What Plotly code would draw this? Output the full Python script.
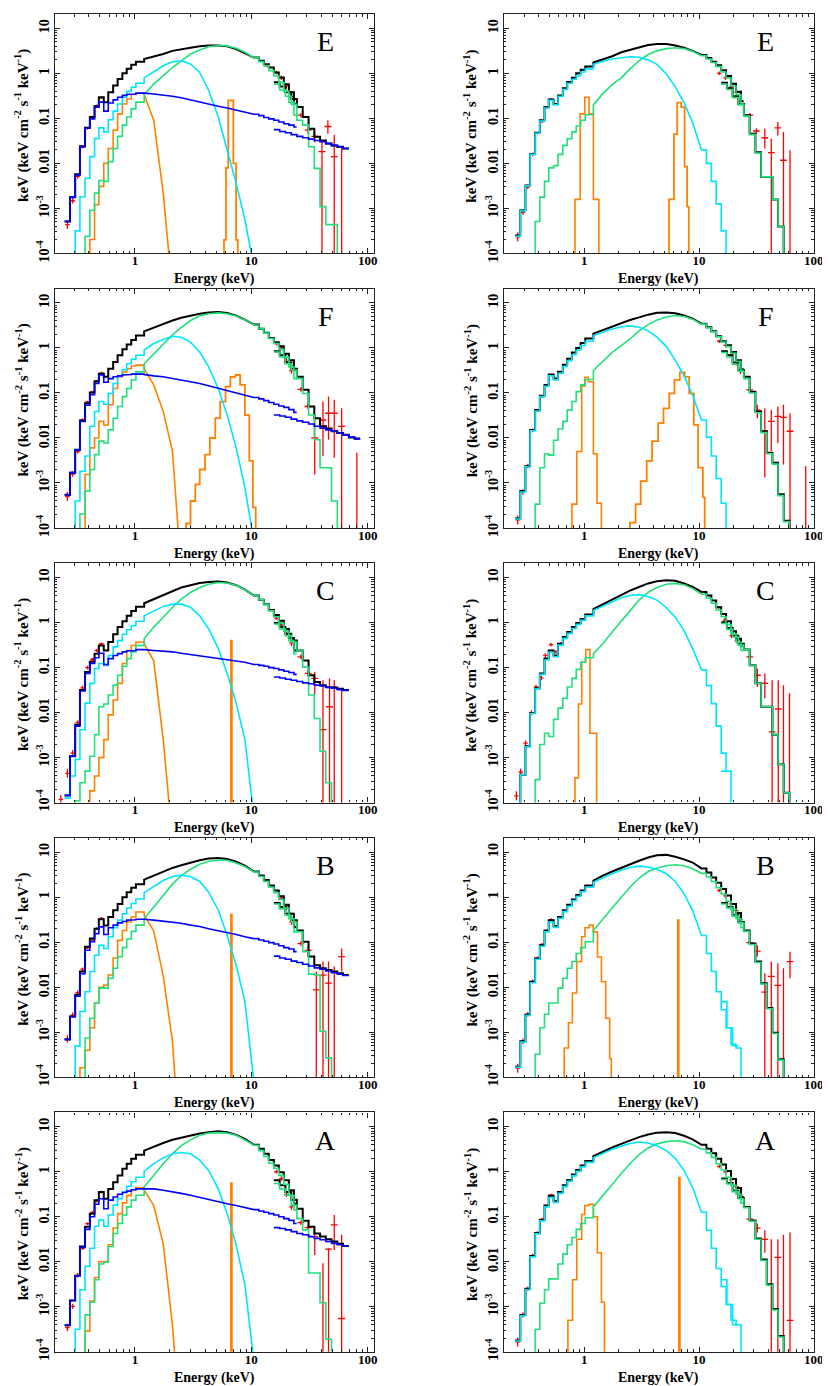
import plotly.graph_objects as go
import math

# ---------------- energy grids (keV, bin edges) ----------------
XIS_EDGES = [0.249, 0.277, 0.307, 0.337, 0.373, 0.41, 0.45, 0.49, 0.54, 0.59, 0.65, 0.71, 0.78,
             0.85, 0.93, 1.02, 1.2, 1.45, 1.75, 2.1, 2.5, 3.0, 3.6, 4.3, 5.2, 6.2, 7.4, 8.8,
             10.5, 11.6, 12.8, 14.1, 15.6, 17.2, 19.0, 21.0, 23.2, 24.5]
HXD_EDGES = [15.6, 17.5, 19.6, 22.0, 24.6, 27.6, 31.0, 34.7, 38.9, 43.6, 48.8, 54.7, 61.3, 68.7, 77.0, 86.0]

# All spectral values below are log10 of E*F(E) [keV (keV cm^-2 s^-1 keV^-1)]
# tot = total model (black), pl = power law (blue), bb = soft thermal (cyan),
# cp = comptonised (green), ln = lines (orange); *h = hard-detector branch
# xd = low-detector data, hd = hard-detector data (red)

# ---------- left column, panel E ----------
LE_tot = [-3.29,-2.75,-2.24,-1.62,-1.21,-0.97,-0.73,-0.53,-0.64,-0.42,-0.27,-0.125,0.0,0.1,0.19,0.26,0.32,0.37,0.43,0.5,0.54,0.57,0.6,0.62,0.62,0.6,0.54,0.45,0.35,0.28,0.2,0.13,0.02,-0.09,-0.24,-0.42,-0.68]
LE_toth = [-0.2,-0.29,-0.42,-0.57,-0.75,-0.97,-1.23,-1.41,-1.49,-1.56,-1.6,-1.63,-1.67]
LE_pl = [-3.29,-2.75,-2.26,-1.63,-1.22,-1.01,-0.75,-0.64,-0.84,-0.66,-0.59,-0.53,-0.49,-0.47,-0.46,-0.44,-0.44,-0.46,-0.48,-0.51,-0.54,-0.59,-0.63,-0.68,-0.73,-0.77,-0.82,-0.87,-0.91,-0.94,-0.98,-1.01,-1.04,-1.08,-1.12,-1.15,-1.19]
LE_plh = [-1.25,-1.29,-1.32,-1.36,-1.4,-1.43,-1.46,-1.49,-1.52,-1.56,-1.6,-1.63,-1.67]
LE_bb = [None,None,-3.5,-2.74,-2.33,-1.85,-1.45,-1.21,-1.3,-1.03,-0.84,-0.68,-0.53,-0.4,-0.31,-0.22,-0.1,0.04,0.17,0.26,0.28,0.21,0.02,-0.38,-0.97,-1.71,-2.44,-3.25,-4.3,None]
LE_cp = [None,None,None,None,-3.62,-3.04,-2.66,-2.38,-2.4,-1.96,-1.67,-1.4,-1.15,-0.97,-0.79,-0.64,-0.47,-0.24,-0.05,0.13,0.28,0.43,0.52,0.59,0.62,0.61,0.56,0.47,0.35,0.26,0.17,0.06,-0.05,-0.2,-0.4,-0.64,-0.93]
LE_cph = [-0.24,-0.37,-0.51,-0.69,-1.04,-1.15,-1.63,-2.11,-2.96,-3.36,-3.36,None]
LE_ln1 = [None,None,None,None,None,-3.69,-2.92,-2.51,-2.0,-1.67,-1.26,-0.9,-0.68,-0.57,-0.47,-0.44,-0.47,-1.04,-2.66,-5.0,None]
LE_ln2_e = [5.82, 6.05, 6.33, 6.67, 7.0, 7.4, 7.65]
LE_ln2 = [-3.7, -2.1, -0.6, -0.6, -2.0, -3.7]
LE_xd_e = [0.263,0.292,0.322,0.355,0.391,0.43,0.47,0.515,13.4,16.4,18.1,20.0,22.1]
LE_xd = [-3.36,-2.83,-2.29,-1.63,-1.22,-0.97,-0.72,-0.54,0.17,0.02,-0.1,-0.28,-0.52]
LE_xd_err = [0.1,0.06,0.05,0.04,0.03,0.03,0.03,0.03,0.03,0.04,0.05,0.06,0.08]
LE_hd_e = [26.6,30.7,35.0,40.4,45.4,51.5,59.6]
LE_hd = [-0.93,-1.26,-1.4,-1.74,-1.18,-1.85,-4.5]
LE_hd_lo = [-0.98,-1.35,-1.53,None,-1.34,None,None]
LE_hd_hi = [-0.88,-1.19,-1.29,-1.49,-1.04,-1.37,-1.63]

# ---------- left column, panel F ----------
LF_tot = [-3.26,-2.77,-2.26,-1.61,-1.23,-0.99,-0.74,-0.57,-0.64,-0.46,-0.31,-0.16,-0.03,0.08,0.18,0.28,0.37,0.45,0.54,0.61,0.67,0.72,0.76,0.79,0.8,0.78,0.72,0.63,0.52,0.43,0.34,0.22,0.13,0.04,-0.13,-0.27,-0.49]
LF_toth = [-0.07,-0.16,-0.32,-0.46,-0.64,-0.93,-1.3,-1.56,-1.74,-1.79,-1.85,-1.89,-1.93,-1.99,-2.01]
LF_pl = [-3.26,-2.77,-2.27,-1.63,-1.27,-1.04,-0.79,-0.6,-0.76,-0.68,-0.64,-0.62,-0.6,-0.59,-0.58,-0.58,-0.59,-0.62,-0.64,-0.68,-0.71,-0.75,-0.79,-0.84,-0.9,-0.94,-0.99,-1.04,-1.1,-1.13,-1.17,-1.21,-1.25,-1.29,-1.32,-1.37,-1.43]
LF_plh = [-1.49,-1.51,-1.54,-1.58,-1.62,-1.65,-1.69,-1.74,-1.78,-1.82,-1.85,-1.89,-1.93,-1.98,-2.02]
LF_bb = [None,None,-3.4,-2.74,-2.4,-1.74,-1.41,-1.19,-1.25,-1.01,-0.79,-0.62,-0.48,-0.35,-0.25,-0.16,-0.05,0.1,0.19,0.26,0.24,0.13,-0.09,-0.42,-0.9,-1.49,-2.22,-3.1,-4.3,None]
LF_cp = [None,None,None,-3.69,-3.18,-2.7,-2.37,-2.07,-2.11,-1.82,-1.56,-1.3,-1.08,-0.9,-0.71,-0.53,-0.35,-0.13,0.1,0.29,0.46,0.61,0.71,0.76,0.78,0.76,0.71,0.63,0.51,0.43,0.33,0.21,0.1,-0.03,-0.2,-0.42,-0.68]
LF_cph = [-0.09,-0.2,-0.35,-0.49,-0.68,-1.01,-1.49,-2.04,-2.66,-2.66,-3.4,None]
LF_ln1 = [None,None,None,None,-2.81,-2.22,-2.0,-1.63,-1.71,-1.26,-0.9,-0.64,-0.53,-0.46,-0.4,-0.38,-0.46,-0.82,-1.41,-2.29,-5.0,None]
LF_ln2_e = [2.75,3.0,3.3,3.6,4.0,4.4,4.9,5.4,6.0,6.6,7.3,8.0,8.8,9.6,10.3,10.9]
LF_ln2 = [-3.9,-3.4,-3.03,-2.7,-2.37,-2.0,-1.56,-1.19,-0.86,-0.64,-0.6,-0.82,-1.49,-2.51,-3.54]
LF_xd_e = [0.263,0.292,0.322,0.355,0.391,0.43,0.47,0.515,16.4,18.1,20.0,22.1]
LF_xd = [-3.3,-2.8,-2.3,-1.6,-1.2,-0.98,-0.74,-0.56,0.1,0.0,-0.3,-0.5]
LF_xd_err = [0.1,0.06,0.05,0.04,0.03,0.03,0.03,0.03,0.04,0.05,0.06,0.07]
LF_hd_e = [26.6,30.6,35.0,41.2,46.0,51.5,59.6,80.5]
LF_hd = [-0.92,-1.3,-2.0,-1.6,-1.45,-1.45,-1.74,-4.5]
LF_hd_lo = [-0.97,-1.36,-2.81,-2.4,-2.04,-2.44,None,None]
LF_hd_hi = [-0.87,-1.24,-1.49,-1.19,-1.08,-1.15,-1.34,-2.33]

# ---------- left column, panel C ----------
LC_tot = [-3.84,-2.97,-2.27,-1.5,-1.1,-0.87,-0.69,-0.51,-0.62,-0.43,-0.26,-0.1,0.03,0.15,0.26,0.35,0.43,0.52,0.62,0.71,0.78,0.83,0.88,0.9,0.91,0.89,0.83,0.73,0.6,0.51,0.41,0.28,0.17,0.04,-0.14,-0.34,-0.62]
LC_toth = [-0.01,-0.1,-0.25,-0.4,-0.62,-0.84,-1.17,-1.32,-1.39,-1.43,-1.44,-1.47,-1.5]
LC_pl = [-3.84,-2.97,-2.3,-1.52,-1.13,-0.91,-0.78,-0.68,-0.93,-0.8,-0.73,-0.69,-0.65,-0.63,-0.62,-0.6,-0.6,-0.62,-0.63,-0.65,-0.68,-0.71,-0.74,-0.76,-0.79,-0.82,-0.85,-0.88,-0.93,-0.95,-0.97,-1.0,-1.02,-1.05,-1.08,-1.11,-1.15]
LC_plh = [-1.21,-1.23,-1.26,-1.28,-1.31,-1.34,-1.36,-1.39,-1.41,-1.44,-1.46,-1.49,-1.51]
LC_bb = [-3.9,-3.41,-3.04,-2.38,-1.79,-1.35,-1.02,-0.91,-0.95,-0.73,-0.54,-0.4,-0.26,-0.16,-0.07,0.03,0.15,0.26,0.36,0.41,0.41,0.34,0.15,-0.14,-0.58,-1.13,-1.79,-2.6,-4.3,None]
LC_cp = [None,None,-3.96,-3.56,-3.3,-2.97,-2.49,-1.87,-1.81,-1.61,-1.39,-1.17,-0.97,-0.8,-0.65,-0.51,-0.36,-0.1,0.12,0.34,0.52,0.67,0.78,0.85,0.89,0.88,0.83,0.73,0.6,0.51,0.4,0.26,0.13,-0.01,-0.19,-0.4,-0.69]
LC_cph = [-0.03,-0.14,-0.29,-0.43,-0.62,-0.99,-1.61,-2.13,-2.86,-3.56,None]
LC_ln1 = [None,None,None,None,None,-3.74,-3.41,-3.0,-2.6,-2.05,-1.72,-1.35,-0.91,-0.62,-0.51,-0.43,-0.47,-0.85,-2.6,-5.0,None]
LC_ln2_e = [6.68, 6.8]
LC_ln2 = [-0.4]
LC_xd_e = [0.231,0.263,0.292,0.322,0.355,0.391,0.43,0.47,0.515,16.4,18.1,20.0,22.1]
LC_xd = [-3.93,-3.35,-2.9,-2.22,-1.45,-1.0,-0.82,-0.62,-0.47,0.1,-0.05,-0.25,-0.45]
LC_xd_err = [0.1,0.1,0.07,0.05,0.05,0.04,0.04,0.04,0.03,0.04,0.05,0.06,0.07]
LC_hd_e = [26.6,30.7,35.0,41.2,46.9,51.5,59.6]
LC_hd = [-0.76,-1.13,-1.24,-2.38,-1.87,-4.5,-4.5]
LC_hd_lo = [-0.81,-1.2,-1.61,None,None,None,None]
LC_hd_hi = [-0.71,-1.06,-1.1,-1.28,-1.24,-1.28,-1.5]

# ---------- left column, panel B ----------
LB_tot = [-3.16,-2.65,-2.17,-1.65,-1.1,-0.92,-0.7,-0.49,-0.63,-0.44,-0.29,-0.15,0.0,0.11,0.21,0.29,0.39,0.48,0.57,0.65,0.71,0.77,0.82,0.86,0.87,0.85,0.79,0.7,0.57,0.48,0.38,0.26,0.15,0.02,-0.17,-0.37,-0.66]
LB_toth = [-0.13,-0.22,-0.37,-0.51,-0.74,-0.99,-1.32,-1.51,-1.58,-1.62,-1.65,-1.69,-1.73]
LB_pl = [-3.16,-2.65,-2.2,-1.7,-1.18,-0.99,-0.81,-0.66,-0.83,-0.68,-0.62,-0.57,-0.54,-0.51,-0.5,-0.49,-0.49,-0.51,-0.53,-0.55,-0.58,-0.62,-0.65,-0.7,-0.74,-0.79,-0.83,-0.88,-0.92,-0.95,-0.98,-1.01,-1.04,-1.08,-1.12,-1.15,-1.21]
LB_plh = [-1.31,-1.35,-1.38,-1.42,-1.45,-1.49,-1.53,-1.57,-1.6,-1.64,-1.68,-1.71,-1.74]
LB_bb = [None,None,-3.31,-2.54,-2.1,-1.65,-1.29,-1.07,-1.14,-0.88,-0.68,-0.51,-0.37,-0.24,-0.14,-0.04,0.1,0.24,0.37,0.46,0.49,0.46,0.35,0.11,-0.29,-0.85,-1.51,-2.32,-4.1,None]
LB_cp = [None,None,None,None,-3.13,-2.69,-2.35,-2.02,-2.02,-1.8,-1.58,-1.32,-1.12,-0.93,-0.76,-0.62,-0.48,-0.22,0.04,0.29,0.48,0.62,0.73,0.8,0.82,0.82,0.76,0.68,0.56,0.46,0.35,0.22,0.1,-0.05,-0.24,-0.48,-0.77]
LB_cph = [-0.15,-0.26,-0.4,-0.55,-0.77,-1.21,-1.71,-1.73,-2.98,-3.57,None]
LB_ln1 = [None,None,None,-3.79,-3.4,-2.9,-2.35,-2.0,-1.95,-1.73,-1.35,-0.96,-0.74,-0.55,-0.44,-0.33,-0.4,-0.75,-1.75,-3.2,-6.0,None]
LB_ln2_e = [6.68, 6.8]
LB_ln2 = [-0.39]
LB_xd_e = [0.263,0.292,0.322,0.355,0.391,0.43,0.47,0.515,18.1,20.0,22.1]
LB_xd = [-3.15,-2.62,-2.12,-1.6,-1.12,-0.95,-0.7,-0.47,-0.02,-0.22,-0.55]
LB_xd_err = [0.08,0.06,0.05,0.04,0.03,0.03,0.03,0.03,0.05,0.06,0.07]
LB_hd_e = [26.6,30.7,36.1,41.2,46.0,51.5,59.6]
LB_hd = [-1.03,-1.18,-2.06,-1.73,-1.91,-4.5,-1.32]
LB_hd_lo = [-1.08,-1.29,None,None,None,None,-1.65]
LB_hd_hi = [-0.98,-1.07,-1.65,-1.43,-1.43,-1.54,-1.14]

# ---------- left column, panel A ----------
LA_tot = [-3.41,-2.86,-2.31,-1.66,-1.22,-0.93,-0.63,-0.45,-0.6,-0.38,-0.23,-0.08,0.07,0.18,0.29,0.38,0.47,0.56,0.64,0.71,0.76,0.81,0.85,0.88,0.9,0.88,0.82,0.73,0.6,0.51,0.4,0.26,0.14,-0.01,-0.19,-0.41,-0.71]
LA_toth = [-0.19,-0.3,-0.45,-0.62,-0.82,-1.09,-1.22,-1.37,-1.44,-1.5,-1.55,-1.6,-1.65]
LA_pl = [-3.41,-2.86,-2.31,-1.68,-1.28,-1.0,-0.72,-0.6,-0.82,-0.63,-0.56,-0.5,-0.46,-0.43,-0.4,-0.38,-0.37,-0.38,-0.41,-0.44,-0.48,-0.52,-0.57,-0.61,-0.66,-0.71,-0.75,-0.79,-0.84,-0.87,-0.9,-0.93,-0.96,-1.0,-1.04,-1.08,-1.15]
LA_plh = [-1.24,-1.26,-1.29,-1.33,-1.37,-1.4,-1.44,-1.48,-1.51,-1.55,-1.59,-1.62,-1.65]
LA_bb = [None,None,-3.5,-2.62,-2.1,-1.7,-1.21,-1.07,-1.21,-0.96,-0.74,-0.6,-0.45,-0.32,-0.22,-0.12,0.01,0.18,0.31,0.4,0.43,0.4,0.26,0.03,-0.38,-0.93,-1.63,-2.51,-4.2,None]
LA_cp = [None,None,None,None,-3.18,-2.9,-2.4,-2.05,-2.01,-1.66,-1.37,-1.15,-0.96,-0.78,-0.63,-0.52,-0.34,-0.08,0.18,0.4,0.58,0.71,0.81,0.86,0.87,0.86,0.81,0.71,0.59,0.47,0.34,0.19,0.08,-0.08,-0.28,-0.52,-0.85]
LA_cph = [-0.26,-0.38,-0.52,-0.74,-1.04,-1.29,-2.25,-2.25,-2.91,-3.72,None]
LA_ln1 = [None,None,None,None,-3.54,-2.87,-2.35,-2.0,-1.99,-1.62,-1.25,-0.93,-0.69,-0.53,-0.4,-0.35,-0.4,-0.75,-1.6,-3.4,-6.0,None]
LA_ln2_e = [6.68, 6.8]
LA_ln2 = [-0.25]
LA_xd_e = [0.263,0.292,0.322,0.355,0.391,0.43,0.47,0.515,16.4,18.1,20.0,22.1]
LA_xd = [-3.46,-2.99,-2.3,-1.7,-1.15,-0.9,-0.65,-0.45,0.0,-0.15,-0.5,-0.78]
LA_xd_err = [0.08,0.06,0.05,0.04,0.03,0.03,0.03,0.03,0.04,0.05,0.06,0.07]
LA_hd_e = [26.6,30.7,35.0,41.2,46.0,51.5,59.6]
LA_hd = [-1.13,-1.24,-1.44,-4.5,-1.72,-1.18,-3.26]
LA_hd_lo = [-1.18,-1.3,-1.85,None,None,-1.74,None]
LA_hd_hi = [-1.08,-1.18,-1.22,-2.03,-1.7,-0.96,-1.4]

# ---------- right column, panel E ----------
RE_tot = [-3.6,-3.04,-2.49,-1.79,-1.32,-1.04,-0.75,-0.58,-0.68,-0.49,-0.33,-0.19,-0.1,0.0,0.08,0.15,0.24,0.31,0.38,0.47,0.52,0.58,0.63,0.65,0.65,0.62,0.57,0.5,0.41,0.34,0.26,0.18,0.07,-0.06,-0.23,-0.41,-0.62]
RE_toth = [-0.21,-0.33,-0.51,-0.68,-0.93,-1.34,-1.75,-2.3,-2.3,-2.8,-3.4,None]
RE_bb = [-3.62,-3.05,-2.5,-1.8,-1.33,-1.06,-0.77,-0.6,-0.7,-0.51,-0.36,-0.22,-0.13,-0.05,0.03,0.1,0.2,0.27,0.32,0.35,0.37,0.36,0.3,0.2,-0.02,-0.3,-0.65,-1.1,-1.7,-2.0,-2.4,-2.9,-3.5,None]
RE_cp = [None,None,None,None,-3.29,-2.75,-2.4,-2.1,-2.05,-1.8,-1.6,-1.45,-1.3,-1.17,-1.04,-0.92,-0.7,-0.45,-0.25,-0.1,0.1,0.28,0.42,0.5,0.55,0.57,0.55,0.49,0.39,0.32,0.24,0.15,0.03,-0.1,-0.28,-0.47,-0.67]
RE_cph = [-0.24,-0.36,-0.54,-0.7,-0.95,-1.36,-1.77,-2.3,-2.3,-2.8,-3.4,None]
RE_ln1_e = [0.83,0.92,1.01,1.10,1.20,1.34]
RE_ln1 = [-2.8,-0.9,-0.53,-0.9,-2.8]
RE_ln2_e = [5.47,6.04,6.45,6.98,7.48,7.87,8.14]
RE_ln2 = [-2.8,-1.35,-0.65,-0.75,-2.07,-2.96]
RE_xd_e = [0.263,0.292,0.322,0.355,0.391,0.43,0.47,0.515,15.0,17.0,19.0,21.2,23.0]
RE_xd = [-3.63,-3.08,-2.52,-1.8,-1.33,-1.07,-0.76,-0.58,0.0,-0.1,-0.3,-0.42,-0.62]
RE_xd_err = [0.1,0.06,0.05,0.04,0.03,0.03,0.03,0.03,0.04,0.05,0.06,0.07,0.08]
RE_hd_e = [27.7,31.6,37.4,42.6,48.6,54.4,62.0]
RE_hd = [-0.93,-1.28,-1.43,-1.76,-1.21,-1.93,-4.5]
RE_hd_lo = [-0.98,-1.34,-1.67,None,-1.38,None,None]
RE_hd_hi = [-0.88,-1.22,-1.23,-1.45,-1.08,-1.3,-1.71]

# ---------- right column, panel F ----------
RF_tot = [-3.79,-3.18,-2.63,-1.82,-1.38,-1.06,-0.82,-0.59,-0.68,-0.53,-0.37,-0.24,-0.1,0.0,0.11,0.21,0.32,0.4,0.48,0.55,0.62,0.68,0.74,0.78,0.79,0.77,0.72,0.65,0.54,0.46,0.37,0.26,0.15,0.06,-0.09,-0.27,-0.47]
RF_toth = [-0.07,-0.16,-0.32,-0.49,-0.64,-0.97,-1.41,-1.85,-2.33,-2.55,-3.25,-3.84,None]
RF_bb = [-3.8,-3.2,-2.64,-1.84,-1.4,-1.08,-0.85,-0.62,-0.71,-0.56,-0.41,-0.28,-0.15,-0.05,0.05,0.15,0.27,0.35,0.42,0.47,0.49,0.46,0.38,0.24,0.03,-0.27,-0.62,-1.05,-1.6,-1.98,-2.4,-2.9,-3.45,None]
RF_cp = [None,None,None,None,-3.47,-2.66,-2.35,-2.38,-2.05,-1.8,-1.63,-1.38,-1.19,-0.97,-0.82,-0.7,-0.5,-0.3,-0.1,0.05,0.2,0.38,0.52,0.62,0.69,0.72,0.7,0.64,0.53,0.45,0.36,0.25,0.13,0.03,-0.12,-0.3,-0.5]
RF_cph = [-0.1,-0.2,-0.36,-0.52,-0.68,-1.0,-1.44,-1.88,-2.35,-2.58,-3.28,-3.86,None]
RF_ln1_e = [0.78,0.86,0.95,1.01,1.08,1.2,1.29,1.41]
RF_ln1 = [-3.47,-2.3,-0.85,-0.65,-0.75,-2.35,-3.45]
RF_ln2_e = [2.5,2.8,3.1,3.5,3.9,4.4,4.9,5.5,6.1,6.8,7.5,8.2,9.0,9.8,10.8,11.2]
RF_ln2 = [-3.88,-3.47,-2.96,-2.51,-2.07,-1.67,-1.34,-1.01,-0.71,-0.54,-0.64,-1.01,-1.71,-2.66,-3.32]
RF_xd_e = [0.263,0.292,0.322,0.355,0.391,0.43,0.47,0.515,15.0,17.0,19.0,21.2,23.0]
RF_xd = [-3.82,-3.2,-2.62,-1.83,-1.39,-1.08,-0.83,-0.6,0.15,0.06,-0.15,-0.32,-0.5]
RF_xd_err = [0.1,0.06,0.05,0.04,0.03,0.03,0.03,0.03,0.04,0.05,0.06,0.07,0.08]
RF_hd_e = [27.7,32.2,37.4,42.6,48.6,54.4,62.0,85.0]
RF_hd = [-0.93,-1.38,-1.84,-1.63,-1.52,-1.54,-1.85,-4.5]
RF_hd_lo = [-0.98,-1.56,-2.88,-2.29,-2.11,-2.59,None,None]
RF_hd_hi = [-0.88,-1.26,-1.34,-1.38,-1.3,-1.26,-1.45,-2.62]

# ---------- right column, panel C ----------
RC_tot = [None,-3.38,-2.75,-2.01,-1.46,-1.13,-0.8,-0.62,-0.73,-0.47,-0.32,-0.21,-0.1,-0.01,0.08,0.18,0.3,0.41,0.52,0.62,0.71,0.79,0.87,0.92,0.94,0.93,0.87,0.79,0.68,0.6,0.49,0.34,0.19,0.03,-0.19,-0.36,-0.51]
RC_toth = [0.01,-0.12,-0.29,-0.47,-0.6,-0.95,-1.35,-1.87,-1.87,-2.49,-3.15,-3.78,None]
RC_bb = [None,-3.38,-2.76,-2.02,-1.47,-1.15,-0.83,-0.66,-0.76,-0.5,-0.35,-0.24,-0.13,-0.04,0.05,0.15,0.27,0.37,0.46,0.55,0.6,0.62,0.58,0.5,0.33,0.12,-0.18,-0.58,-1.05,-1.4,-1.8,-2.3,-2.9,-3.3,None]
RC_bbh = [-3.3]
RC_cp = [None,None,None,None,-3.49,-2.71,-2.46,-2.53,-2.15,-1.9,-1.68,-1.43,-1.24,-1.04,-0.88,-0.78,-0.69,-0.47,-0.21,0.04,0.26,0.5,0.67,0.78,0.85,0.87,0.84,0.76,0.63,0.54,0.43,0.28,0.13,-0.04,-0.25,-0.43,-0.62]
RC_cph = [-0.02,-0.15,-0.32,-0.5,-0.6,-0.95,-1.35,-1.87,-1.87,-2.49,-3.15,-3.78,None]
RC_ln1_e = [0.83,0.89,0.95,1.03,1.12,1.2,1.28]
RC_ln1 = [-3.45,-1.81,-0.88,-0.6,-2.46,-2.46]
RC_xd_e = [0.256,0.279,0.308,0.347,0.38,0.423,0.458,0.513,0.566,0.63,14.8,16.8,19.2,21.3,23.4]
RC_xd = [-3.85,-3.32,-2.68,-2.0,-1.43,-1.23,-0.73,-0.49,-0.65,-0.47,0.34,0.06,-0.29,-0.4,-0.47]
RC_xd_err = [0.1,0.08,0.06,0.05,0.05,0.05,0.05,0.04,0.04,0.04,0.03,0.04,0.05,0.06,0.07]
RC_hd_e = [27.7,32.2,37.4,43.3,49.0,54.4,61.4]
RC_hd = [-0.76,-1.17,-1.35,-2.43,-1.92,-4.5,-4.5]
RC_hd_lo = [-0.81,-1.43,-1.68,None,None,None,None]
RC_hd_hi = [-0.71,-1.02,-1.13,-1.28,-1.28,-1.39,-1.57]

# ---------- right column, panel B ----------
RB_tot = [-3.77,-3.2,-2.61,-1.88,-1.36,-1.07,-0.74,-0.51,-0.64,-0.44,-0.29,-0.17,-0.05,0.05,0.15,0.26,0.37,0.48,0.57,0.65,0.74,0.81,0.88,0.93,0.94,0.9,0.84,0.77,0.64,0.55,0.44,0.32,0.18,0.04,-0.15,-0.35,-0.55]
RB_toth = [-0.13,-0.22,-0.4,-0.55,-0.74,-1.03,-1.43,-1.91,-2.46,-3.01,-3.6,None]
RB_bb = [-3.78,-3.22,-2.63,-1.9,-1.38,-1.09,-0.77,-0.55,-0.67,-0.47,-0.32,-0.2,-0.08,0.02,0.12,0.22,0.33,0.43,0.52,0.6,0.66,0.69,0.67,0.62,0.52,0.35,0.08,-0.3,-0.85,-1.25,-1.65,-2.1,-2.5,-2.9,-3.27,-3.35,None]
RB_bbh = [-2.32,-2.9,-3.3]
RB_cp = [None,None,None,None,-3.49,-2.9,-2.6,-2.35,-2.35,-2.02,-1.8,-1.58,-1.43,-1.25,-1.12,-0.99,-0.74,-0.48,-0.24,0.0,0.22,0.42,0.57,0.65,0.7,0.72,0.7,0.63,0.53,0.45,0.35,0.21,0.07,-0.09,-0.27,-0.48,-0.68]
RB_cph = [-0.15,-0.24,-0.42,-0.57,-0.76,-1.05,-1.45,-1.93,-2.48,-3.03,-3.62,None]
RB_ln1_e = [0.668,0.728,0.788,0.859,0.948,1.013,1.104,1.195,1.303,1.411,1.537,1.664,1.72]
RB_ln1 = [-3.35,-2.79,-2.13,-1.43,-0.88,-0.68,-0.62,-0.77,-1.33,-1.88,-2.69,-3.59]
RB_ln2_e = [6.53, 6.65]
RB_ln2 = [-0.51]
RB_xd_e = [0.263,0.292,0.322,0.355,0.391,0.43,0.47,0.515,15.0,17.0,19.0,21.2,23.0]
RB_xd = [-3.8,-3.2,-2.6,-1.87,-1.35,-1.05,-0.75,-0.5,0.15,0.03,-0.15,-0.3,-0.5]
RB_xd_err = [0.1,0.06,0.05,0.04,0.03,0.03,0.03,0.03,0.04,0.05,0.06,0.07,0.08]
RB_hd_e = [27.7,32.2,37.4,42.6,48.6,54.4,62.0]
RB_hd = [-1.01,-1.2,-2.11,-1.76,-1.96,-4.5,-1.43]
RB_hd_lo = [-1.06,-1.32,None,None,None,None,-1.8]
RB_hd_hi = [-0.96,-1.07,-1.69,-1.43,-1.47,-1.58,-1.21]

# ---------- right column, panel A ----------
RA_tot = [-3.75,-3.18,-2.6,-1.87,-1.36,-1.07,-0.75,-0.53,-0.65,-0.45,-0.3,-0.18,-0.06,0.04,0.14,0.24,0.35,0.45,0.54,0.62,0.7,0.77,0.83,0.87,0.88,0.86,0.8,0.72,0.6,0.51,0.41,0.29,0.16,0.02,-0.16,-0.36,-0.56]
RA_toth = [-0.15,-0.25,-0.42,-0.58,-0.78,-1.08,-1.48,-1.95,-2.5,-3.05,-3.65,None]
RA_bb = [-3.76,-3.2,-2.62,-1.89,-1.38,-1.09,-0.78,-0.57,-0.68,-0.48,-0.33,-0.21,-0.09,0.01,0.11,0.21,0.31,0.41,0.5,0.57,0.63,0.66,0.64,0.58,0.47,0.3,0.03,-0.35,-0.9,-1.3,-1.7,-2.15,-2.55,-2.95,-3.3,-3.4,None]
RA_bbh = [-2.4,-2.95,-3.4]
RA_cp = [None,None,None,None,-3.5,-2.92,-2.62,-2.38,-2.38,-2.05,-1.83,-1.62,-1.46,-1.28,-1.15,-1.02,-0.78,-0.52,-0.28,-0.04,0.18,0.38,0.53,0.62,0.67,0.69,0.67,0.6,0.5,0.42,0.32,0.18,0.04,-0.12,-0.3,-0.5,-0.7]
RA_cph = [-0.17,-0.27,-0.44,-0.6,-0.8,-1.1,-1.5,-1.97,-2.52,-3.07,-3.67,None]
RA_ln1_e = [0.72,0.79,0.86,0.95,1.01,1.1,1.2,1.3,1.41,1.5]
RA_ln1 = [-3.3,-2.4,-1.5,-0.95,-0.75,-0.72,-1.0,-1.8,-2.9]
RA_ln2_e = [6.68, 6.8]
RA_ln2 = [-0.13]
RA_xd_e = [0.263,0.292,0.322,0.355,0.391,0.43,0.47,0.515,15.0,17.0,19.0,21.2,23.0]
RA_xd = [-3.78,-3.18,-2.6,-1.86,-1.35,-1.05,-0.76,-0.52,0.12,0.0,-0.18,-0.33,-0.52]
RA_xd_err = [0.1,0.06,0.05,0.04,0.03,0.03,0.03,0.03,0.04,0.05,0.06,0.07,0.08]
RA_hd_e = [27.7,32.2,37.4,42.6,48.6,54.4,62.0]
RA_hd = [-1.05,-1.25,-1.5,-4.5,-1.9,-4.5,-3.3]
RA_hd_lo = [-1.1,-1.35,-1.8,None,None,None,None]
RA_hd_hi = [-1.0,-1.15,-1.3,-1.5,-1.5,-1.4,-1.35]

LETTERS = ["E", "E", "F", "F", "C", "C", "B", "B", "A", "A"]
X_TICKS = [1, 10, 100]
Y_TICKS = [1e-4, 1e-3, 0.01, 0.1, 1, 10]
Y_TICKTEXT = ["10<sup>-4</sup>", "10<sup>-3</sup>", "0.01", "0.1", "1", "10"]
X_TITLE = "Energy (keV)"
Y_TITLE = "keV (keV cm<sup>-2</sup> s<sup>-1</sup> keV<sup>-1</sup>)"

# ---------------- helpers ----------------
FLOOR = 1e-7
STEP_LO, STEP_HI = 1.2, 10.5


def flux(v):
    return FLOOR if v is None else 10.0 ** v


def model_xy(edges, lg, smooth_mid=True):
    xs, ys = [], []
    for i, v in enumerate(lg):
        x0, x1 = edges[i], edges[i + 1]
        y = flux(v)
        if smooth_mid and STEP_LO <= x0 < STEP_HI:
            xs.append(x0); ys.append(y)
        else:
            xs += [x0, x1]; ys += [y, y]
    return xs, ys


def line_xy(edges, lg):
    xs, ys = [edges[0]], [FLOOR]
    for i, v in enumerate(lg):
        xs += [edges[i], edges[i + 1]]
        ys += [flux(v), flux(v)]
    xs.append(edges[-1]); ys.append(FLOOR)
    return xs, ys


def cross_xy(e, lg, lo, hi, fx):
    xs, ys = [], []
    for E, v, l, h in zip(e, lg, lo, hi):
        xs += [E / fx, E * fx, None, E, E, None]
        ys += [flux(v), flux(v), None, flux(l), flux(h), None]
    return xs, ys


C_BLACK, C_RED, C_BLUE = "#000000", "#ff0000", "#0000ff"
C_CYAN, C_GREEN, C_ORANGE = "#00e5ff", "#1fe07a", "#ff8000"

g = globals()
fig = go.Figure()

W, H = 830.0, 1386.0
COL_X = [(47.3, 370.0), (501.0, 815.0)]
X_RANGES = [[math.log10(0.205), math.log10(113.0)], [math.log10(0.198), math.log10(100.7)]]
ROW_TOP = [6.0, 282.4, 558.8, 835.2, 1111.6]
PANEL_H = 241.0
NAMES = ["E", "F", "C", "B", "A"]

minor_x = [m * 10.0 ** d for d in (-1, 0, 1) for m in range(2, 10)]
minor_y = [m * 10.0 ** d for d in range(-4, 2) for m in range(2, 10)]

XTICKFONT = dict(family="Liberation Serif", size=13, color="#000", weight="bold")
YTICKFONT = dict(family="Liberation Serif", size=14, color="#000", weight="bold")
TITLEFONT = dict(family="Liberation Serif", size=14, color="#000", weight="bold")
YTITLEFONT = dict(family="Liberation Serif", size=15, color="#000", weight="bold")

annotations = []
k = 0
for r, nm in enumerate(NAMES):
    for c, side in enumerate(["L", "R"]):
        k += 1
        P = side + nm
        xr = "x" if k == 1 else f"x{k}"
        yr = "y" if k == 1 else f"y{k}"

        def add(xy, color, width):
            fig.add_trace(go.Scatter(x=xy[0], y=xy[1], mode="lines",
                                     line=dict(color=color, width=width),
                                     xaxis=xr, yaxis=yr, hoverinfo="skip",
                                     showlegend=False, connectgaps=False))

        # data (red crosses)
        xe, xv, xerr = g[P + "_xd_e"], g[P + "_xd"], g[P + "_xd_err"]
        add(cross_xy(xe, xv, [v - e for v, e in zip(xv, xerr)],
                     [v + e for v, e in zip(xv, xerr)], 1.045), C_RED, 1.3)
        add(cross_xy(g[P + "_hd_e"], g[P + "_hd"], g[P + "_hd_lo"], g[P + "_hd_hi"], 1.07),
            C_RED, 1.3)
        # total model
        add(model_xy(XIS_EDGES, g[P + "_tot"]), C_BLACK, 2.0)
        add(model_xy(HXD_EDGES, g[P + "_toth"], False), C_BLACK, 2.0)
        # lines
        if P + "_ln1_e" in g:
            add(line_xy(g[P + "_ln1_e"], g[P + "_ln1"]), C_ORANGE, 1.6)
        else:
            add(model_xy(XIS_EDGES, g[P + "_ln1"]), C_ORANGE, 1.6)
        if P + "_ln2_e" in g:
            add(line_xy(g[P + "_ln2_e"], g[P + "_ln2"]), C_ORANGE, 1.8)
        # comptonised
        add(model_xy(XIS_EDGES, g[P + "_cp"]), C_GREEN, 1.6)
        add(model_xy(HXD_EDGES, g[P + "_cph"], False), C_GREEN, 1.6)
        # soft thermal
        add(model_xy(XIS_EDGES, g[P + "_bb"]), C_CYAN, 1.6)
        if P + "_bbh" in g:
            add(model_xy(HXD_EDGES, g[P + "_bbh"], False), C_CYAN, 1.6)
        # power law
        if P + "_pl" in g:
            add(model_xy(XIS_EDGES, g[P + "_pl"]), C_BLUE, 1.6)
            add(model_xy(HXD_EDGES, g[P + "_plh"], False), C_BLUE, 1.6)

        x0, x1 = COL_X[c]
        top = ROW_TOP[r]
        bot = top + PANEL_H
        xdom = [x0 / W, x1 / W]
        ydom = [1 - bot / H, 1 - top / H]
        axis_common = dict(showline=True, linecolor="#222", linewidth=1.4, mirror="ticks",
                           ticks="inside", ticklen=5, tickwidth=1, tickcolor="#222",
                           showgrid=False, zeroline=False, type="log")
        fig.layout[("xaxis" if k == 1 else f"xaxis{k}")] = dict(
            axis_common, domain=xdom, range=X_RANGES[c], anchor=yr, tickfont=XTICKFONT,
            tickvals=X_TICKS, ticktext=[str(t) for t in X_TICKS], ticklabelstandoff=-5,
            minor=dict(tickvals=minor_x, ticklen=2.5, ticks="inside", tickcolor="#222"))
        fig.layout[("yaxis" if k == 1 else f"yaxis{k}")] = dict(
            axis_common, domain=ydom, range=[-4, 1.32], anchor=xr, tickfont=YTICKFONT,
            tickvals=Y_TICKS, ticktext=Y_TICKTEXT, tickangle=-90, ticklabelstandoff=-1,
            minor=dict(tickvals=minor_y, ticklen=2.5, ticks="inside", tickcolor="#222"))
        annotations.append(dict(text=X_TITLE, xref="paper", yref="paper",
                                x=(x0 + x1) / 2 / W, y=1 - (bot + 26.0) / H,
                                xanchor="center", yanchor="middle", showarrow=False,
                                font=TITLEFONT))
        annotations.append(dict(text=Y_TITLE, xref="paper", yref="paper", textangle=-90,
                                x=(x0 - 33.0) / W, y=1 - (top + PANEL_H / 2 - 8) / H,
                                xanchor="center", yanchor="middle", showarrow=False,
                                font=YTITLEFONT))
        annotations.append(dict(text=LETTERS[k - 1], xref="paper", yref="paper",
                                x=(x1 - 49.0) / W, y=1 - (top + 28.0) / H,
                                xanchor="center", yanchor="middle", showarrow=False,
                                font=dict(family="Liberation Serif", size=28, color="#000")))

fig.update_layout(width=830, height=1386, margin=dict(l=0, r=0, t=0, b=0),
                  paper_bgcolor="white", plot_bgcolor="white", annotations=annotations,
                  autosize=False)
fig.write_html("out.html")
